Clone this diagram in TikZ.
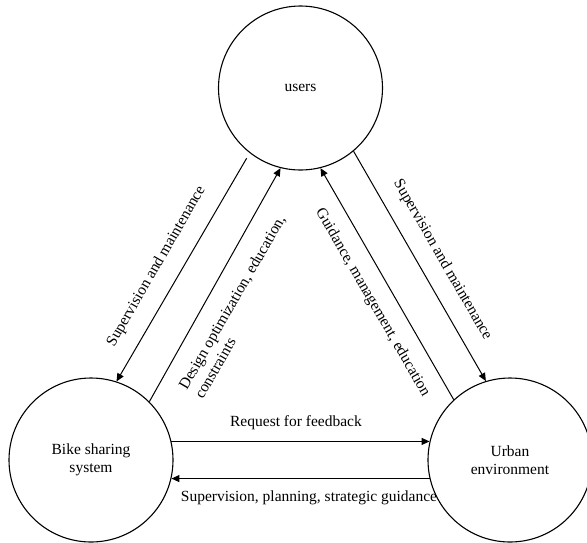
\documentclass[tikz,border=0pt]{standalone}
\usepackage{fontspec}
\setmainfont{Liberation Serif}
\usetikzlibrary{arrows.meta}
\newcommand\dgmfont{\fontsize{15.5}{18.5}\selectfont}
\begin{document}
\begin{tikzpicture}[x=1pt,y=-1pt,
  entity/.style={circle,draw,line width=1.1pt,minimum size=164pt,inner sep=0pt,align=center,font=\dgmfont},
  flow/.style={line width=1pt,-{Triangle[length=8pt,width=7pt]}},
  lbl/.style={inner sep=0pt,font=\dgmfont}]
\useasboundingbox (0,0) rectangle (587,542);
\clip (0,0) rectangle (587,542);

% the three actors
\node[entity] (users) at (300.5,88) {users};
\node[entity] (bike)  at (91,460)   {Bike sharing\\system};
\node[entity] (urban) at (510,460)  {Urban\\environment};

% relations between users and the bike sharing system
\draw[flow, shorten <=6pt] (users.-128) -- (bike.72);
\draw[flow] (bike.45) -- (users.-104);

% relations between users and the urban environment
\draw[flow] (urban.133) -- (users.-76);
\draw[flow] (users.-50) -- (urban.107);

% relations between the bike sharing system and the urban environment
\draw[flow] (bike.13) -- (urban.167);
\draw[flow] (urban.-167) -- (bike.-13);

% labels
\node[lbl, rotate=60] (l1) at (156.5,266.5) {Supervision and maintenance};
\node[lbl, rotate=60, align=left] (l2) at (239.7,306.9) {Design optimization, education,\\constraints};
\node[lbl, rotate=-60] (l3) at (372.5,302.5) {Guidance, management, education};
\node[lbl, rotate=-60] (l4) at (442.5,260) {Supervision and maintenance};
\node[lbl] (l5) at (296,422.3) {Request for feedback};
\node[lbl] (l6) at (309,497.7) {Supervision, planning, strategic guidance};
\end{tikzpicture}
\end{document}
